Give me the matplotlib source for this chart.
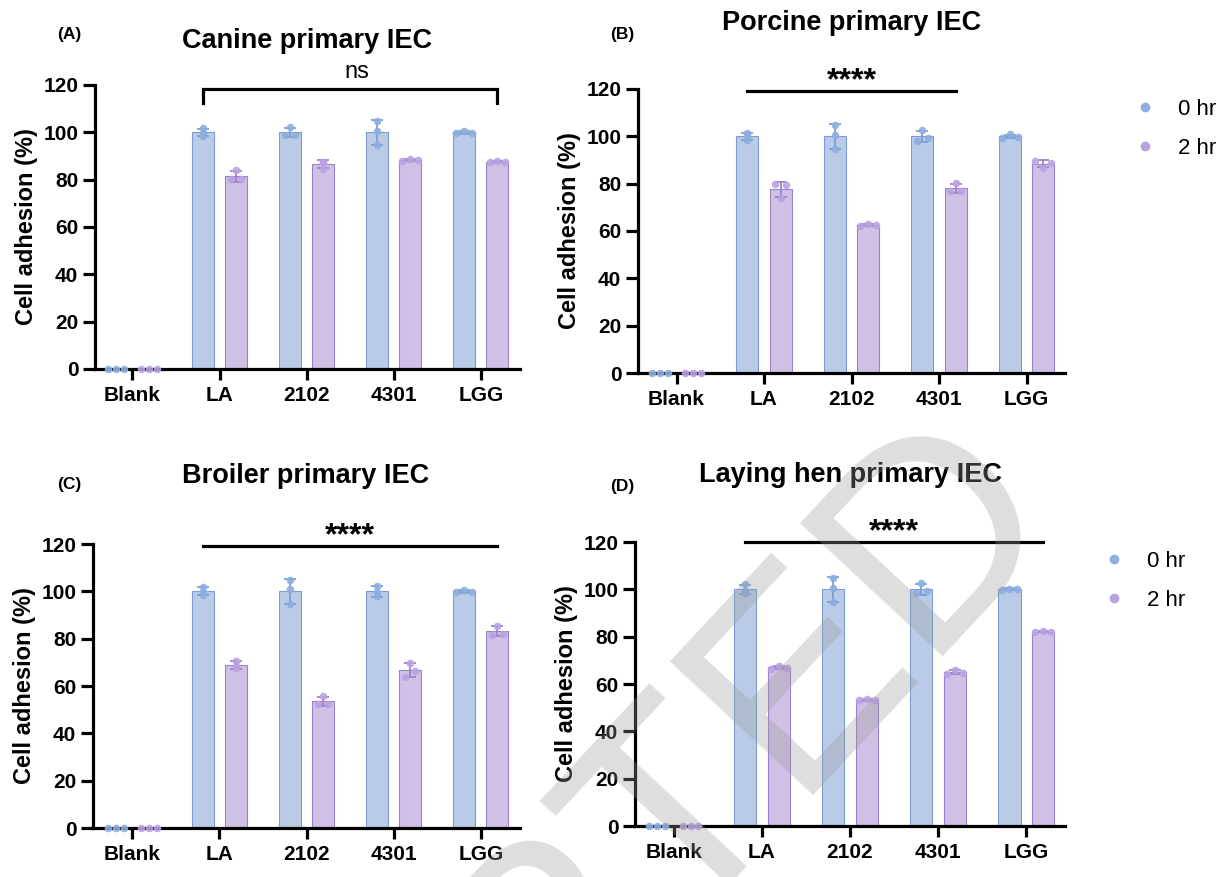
import matplotlib.pyplot as plt
from matplotlib.lines import Line2D
import numpy as np

plt.rcParams['font.family'] = ['Liberation Sans', 'DejaVu Sans']

W, H = 1225, 877

groups = ["Blank", "LA", "2102", "4301", "LGG"]
y_ticks = [0, 20, 40, 60, 80, 100, 120]
legend_labels = ["0 hr", "2 hr"]

# (A) canine
canine_0h = [0, 100, 100, 100, 100]
canine_0h_sd = [0, 1.6, 1.8, 5.2, 0.5]
canine_0h_pts = [[0, 0, 0], [101.8, 98.5, 99.7], [99.0, 102.2, 98.8], [105.0, 100.5, 94.5], [99.6, 100.5, 99.9]]
canine_2h = [0, 81.5, 86.5, 88.3, 87.6]
canine_2h_sd = [0, 2.3, 1.7, 0.3, 0.2]
canine_2h_pts = [[0, 0, 0], [80.2, 84.2, 80.1], [87.6, 84.6, 87.3], [88.0, 88.6, 88.3], [87.4, 87.8, 87.6]]

# (B) porcine
porcine_0h = [0, 100, 100, 100, 100]
porcine_0h_sd = [0, 1.6, 5.2, 2.3, 0.6]
porcine_0h_pts = [[0, 0, 0], [101.5, 98.5, 100.0], [105.0, 100.5, 94.5], [102.5, 98.0, 99.5], [99.5, 100.8, 99.7]]
porcine_2h = [0, 77.6, 62.5, 78.0, 88.4]
porcine_2h_sd = [0, 3.3, 0.4, 1.9, 1.4]
porcine_2h_pts = [[0, 0, 0], [79.8, 74.0, 79.3], [62.0, 62.8, 62.6], [76.8, 80.3, 77.0], [89.5, 86.8, 88.8]]

# (C) broiler
broiler_0h = [0, 100, 100, 100, 100]
broiler_0h_sd = [0, 1.7, 5.3, 2.2, 0.5]
broiler_0h_pts = [[0, 0, 0], [101.8, 98.5, 99.7], [104.7, 100.8, 94.5], [98.0, 102.4, 99.6], [99.6, 100.5, 99.9]]
broiler_2h = [0, 68.8, 53.5, 66.7, 83.1]
broiler_2h_sd = [0, 1.7, 2.0, 3.0, 2.1]
broiler_2h_pts = [[0, 0, 0], [70.7, 67.5, 68.3], [52.3, 55.8, 52.4], [63.8, 69.8, 66.5], [81.7, 85.5, 82.0]]

# (D) laying hen
hen_0h = [0, 100, 100, 100, 100]
hen_0h_sd = [0, 1.9, 5.2, 2.2, 0.4]
hen_0h_pts = [[0, 0, 0], [102.2, 98.5, 99.3], [105.0, 100.5, 94.5], [98.3, 102.6, 99.1], [99.6, 100.3, 100.1]]
hen_2h = [0, 67.0, 53.3, 65.0, 82.1]
hen_2h_sd = [0, 0.8, 0.3, 0.8, 0.2]
hen_2h_pts = [[0, 0, 0], [66.3, 67.8, 66.9], [53.1, 53.6, 53.2], [64.4, 65.9, 64.7], [82.0, 82.3, 82.1]]

blue_fill, blue_edge, blue_dot = "#b9cbe7", "#7c9dd2", "#8eaee0"
purple_fill, purple_edge, purple_dot = "#cfc1e6", "#9b83c9", "#b9a2e2"

OFFSET = 0.19
BAR_W = 0.25


def px(x, y):
    return x / W, 1 - y / H


def jitter(vals):
    # spread overlapping points sideways, keep isolated ones centred
    vals = np.asarray(vals, dtype=float)
    offs = np.zeros(len(vals))
    close = [np.sum(np.abs(vals - v) < 3.0) - 1 for v in vals]
    if all(c == 2 for c in close):
        return np.array([-0.09, 0.0, 0.09])
    pair = [i for i, c in enumerate(close) if c >= 1]
    if len(pair) == 2:
        offs[pair[0]] = -0.06
        offs[pair[1]] = 0.06
    return offs


def draw_panel(ax, m0, s0, p0, m2, s2, p2, xlim):
    x = np.arange(len(groups))
    for shift, means, sds, pts, fc, ec, dc in [
        (-OFFSET, m0, s0, p0, blue_fill, blue_edge, blue_dot),
        (OFFSET, m2, s2, p2, purple_fill, purple_edge, purple_dot),
    ]:
        ax.bar(x + shift, means, width=BAR_W, color=fc, edgecolor=ec, linewidth=0.8, zorder=2)
        for i in range(len(groups)):
            if means[i] > 0:
                ax.errorbar(x[i] + shift, means[i], yerr=sds[i], fmt="none", ecolor=ec,
                            elinewidth=1.3, capsize=4.5, capthick=1.3, zorder=4)
            ax.scatter(x[i] + shift + jitter(pts[i]), pts[i], s=30, color=dc, alpha=0.9,
                       linewidths=0, zorder=5, clip_on=False)

    ax.set_xlim(*xlim)
    ax.set_ylim(0, 120)
    ax.set_yticks(y_ticks)
    ax.set_xticks(x)
    ax.set_xticklabels(groups)
    for side in ["top", "right"]:
        ax.spines[side].set_visible(False)
    for side in ["left", "bottom"]:
        ax.spines[side].set_linewidth(2.3)
    ax.tick_params(axis="y", length=9, width=2.3, pad=3, labelsize=15)
    ax.tick_params(axis="x", length=8, width=2.3, pad=4, labelsize=15)
    for lab in ax.get_xticklabels() + ax.get_yticklabels():
        lab.set_fontweight("bold")
    ax.set_ylabel("Cell adhesion (%)", fontsize=17, fontweight="bold", labelpad=4)


def add_sig(ax, label, i_start, i_end, y, bracket=False, leg=5.8):
    xa = i_start - OFFSET
    xb = i_end + OFFSET
    if bracket:
        ax.plot([xa, xa, xb, xb], [y - leg, y, y, y - leg], color="black", lw=2.3,
                clip_on=False, solid_joinstyle="miter")
        ax.annotate(label, xy=((xa + xb) / 2 + 0.08, y), xytext=(0, 8), textcoords="offset points",
                    ha="center", va="baseline", fontsize=17, annotation_clip=False)
    else:
        ax.plot([xa, xb], [y, y], color="black", lw=2.3, clip_on=False)
        ax.annotate(label, xy=((xa + xb) / 2, y), xytext=(0, 1), textcoords="offset points",
                    ha="center", va="baseline", fontsize=23, fontweight="bold",
                    annotation_clip=False)


fig = plt.figure(figsize=(W / 100, H / 100), dpi=100)

ax_a = fig.add_axes([95 / W, 1 - 369 / H, (520 - 95) / W, 284 / H])
ax_b = fig.add_axes([638 / W, 1 - 373 / H, (1065 - 638) / W, 284 / H])
ax_c = fig.add_axes([93 / W, 1 - 828 / H, (520 - 93) / W, 284 / H])
ax_d = fig.add_axes([635 / W, 1 - 826 / H, (1065 - 635) / W, 284 / H])

draw_panel(ax_a, canine_0h, canine_0h_sd, canine_0h_pts, canine_2h, canine_2h_sd, canine_2h_pts, (-0.43, 4.45))
draw_panel(ax_b, porcine_0h, porcine_0h_sd, porcine_0h_pts, porcine_2h, porcine_2h_sd, porcine_2h_pts, (-0.44, 4.44))
draw_panel(ax_c, broiler_0h, broiler_0h_sd, broiler_0h_pts, broiler_2h, broiler_2h_sd, broiler_2h_pts, (-0.45, 4.45))
draw_panel(ax_d, hen_0h, hen_0h_sd, hen_0h_pts, hen_2h, hen_2h_sd, hen_2h_pts, (-0.44, 4.44))

add_sig(ax_a, "ns", 1, 4, 118.3, bracket=True)
add_sig(ax_b, "****", 1, 3, 119.2)
add_sig(ax_c, "****", 1, 4, 119.1)
add_sig(ax_d, "****", 1, 4, 120.0)

# titles and panel letters
fig.text(*px(307, 48), "Canine primary IEC", ha="center", va="baseline", fontsize=19.5, fontweight="bold")
fig.text(*px(852, 30), "Porcine primary IEC", ha="center", va="baseline", fontsize=19.5, fontweight="bold")
fig.text(*px(306, 483), "Broiler primary IEC", ha="center", va="baseline", fontsize=19.5, fontweight="bold")
fig.text(*px(850, 482), "Laying hen primary IEC", ha="center", va="baseline", fontsize=19.5, fontweight="bold")
fig.text(*px(69, 35), "(A)", ha="center", va="center", fontsize=12.5, fontweight="bold")
fig.text(*px(622, 35), "(B)", ha="center", va="center", fontsize=12.5, fontweight="bold")
fig.text(*px(69, 485), "(C)", ha="center", va="center", fontsize=12.5, fontweight="bold")
fig.text(*px(622, 486), "(D)", ha="center", va="center", fontsize=12.5, fontweight="bold")

handles = [Line2D([], [], marker="o", ls="", color=blue_dot, ms=6),
           Line2D([], [], marker="o", ls="", color=purple_dot, ms=6)]
for ax, (lx, ly) in [(ax_b, (1134, 99)), (ax_d, (1103, 551))]:
    ax.legend(handles, legend_labels, loc="upper left", bbox_to_anchor=px(lx, ly),
              bbox_transform=fig.transFigure, frameon=False, fontsize=16,
              handlelength=1.0, handletextpad=1.0, labelspacing=0.8,
              borderpad=0, borderaxespad=0)

# watermark
fig.text(*px(1068, 522), "ACCEPTED", rotation=47, rotation_mode="anchor", ha="right",
         va="baseline", fontsize=205, color="#9a9a9a", alpha=0.32, zorder=20)

fig.savefig("out.png", dpi=100)
